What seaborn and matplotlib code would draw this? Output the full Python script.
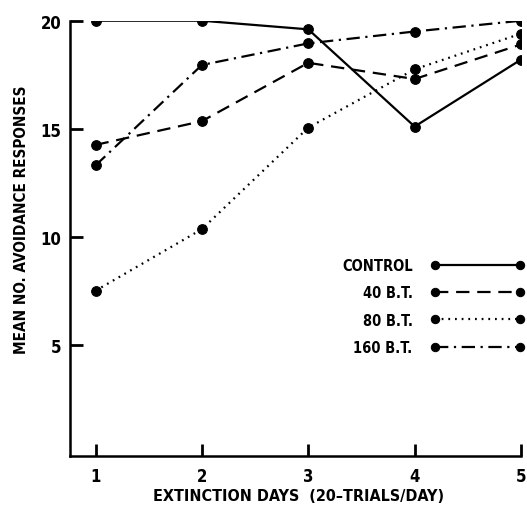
import matplotlib
matplotlib.use("Agg")
import matplotlib.pyplot as plt
import seaborn as sns
import pandas as pd

days = [1, 2, 3, 4, 5]
control = [20.0, 20.0, 19.6, 15.1, 18.2]
bt40 = [14.25, 15.35, 18.05, 17.3, 18.9]
bt80 = [7.5, 10.35, 15.05, 17.75, 19.4]
bt160 = [13.3, 17.95, 18.95, 19.5, 20.0]
labels = ["CONTROL", "40 B.T.", "80 B.T.", "160 B.T."]
series = [control, bt40, bt80, bt160]
styles = ["-", (0, (6, 3.5)), (0, (0.8, 2.2)), (0, (6, 2.5, 1, 2.5))]

sns.set_style("white")
plt.rcParams["font.family"] = ["DejaVu Sans"]
plt.rcParams["font.stretch"] = "condensed"
plt.rcParams["font.weight"] = "bold"
plt.rcParams["text.color"] = "black"
plt.rcParams["axes.labelcolor"] = "black"
plt.rcParams["xtick.color"] = "black"
plt.rcParams["ytick.color"] = "black"
plt.rcParams["xtick.bottom"] = True
plt.rcParams["ytick.left"] = True

fig = plt.figure(figsize=(5.27, 5.10), dpi=100)
ax = fig.add_axes([70 / 527, 1 - 457 / 510, 451 / 527, 435.3 / 510])

for lab, vals, ls in zip(labels, series, styles):
    df = pd.DataFrame({"day": days, "value": vals})
    sns.lineplot(data=df, x="day", y="value", ax=ax, color="black",
                 linewidth=1.6, marker="o", markersize=7,
                 markeredgecolor="black", linestyle=ls, label=lab)
handles = ax.get_lines()

ax.set_xlim(0.76, 5.0)
ax.set_ylim(-0.15, 20.0)
ax.set_xticks(days)
ax.set_yticks([5, 10, 15, 20])
ax.tick_params(axis="both", direction="in", length=9, width=2,
               labelsize=12, color="black", labelcolor="black")
ax.tick_params(axis="x", pad=8)
ax.tick_params(axis="y", pad=6)
for s in ["top", "right"]:
    ax.spines[s].set_visible(False)
for s in ["left", "bottom"]:
    ax.spines[s].set_linewidth(1.8)
    ax.spines[s].set_color("black")

ax.set_xlabel("EXTINCTION DAYS  (20\u2013TRIALS/DAY)", fontsize=11.5, fontweight="bold")
ax.set_ylabel("MEAN NO. AVOIDANCE RESPONSES", fontsize=11, fontweight="bold")
ax.xaxis.set_label_coords(0.506, -0.073)
ax.yaxis.set_label_coords(-0.091, 0.544)

leg = ax.legend(handles=handles, labels=labels, loc="center right",
                bbox_to_anchor=(1.0075, 0.3435), frameon=False, markerfirst=False,
                numpoints=2, handlelength=6.4, handletextpad=1.27,
                labelspacing=0.84, borderpad=0, borderaxespad=0,
                prop={"size": 10.5, "weight": "bold", "stretch": "condensed"})
for ln in leg.get_lines():
    ln.set_markersize(6)

fig.savefig("out.png", dpi=100)
